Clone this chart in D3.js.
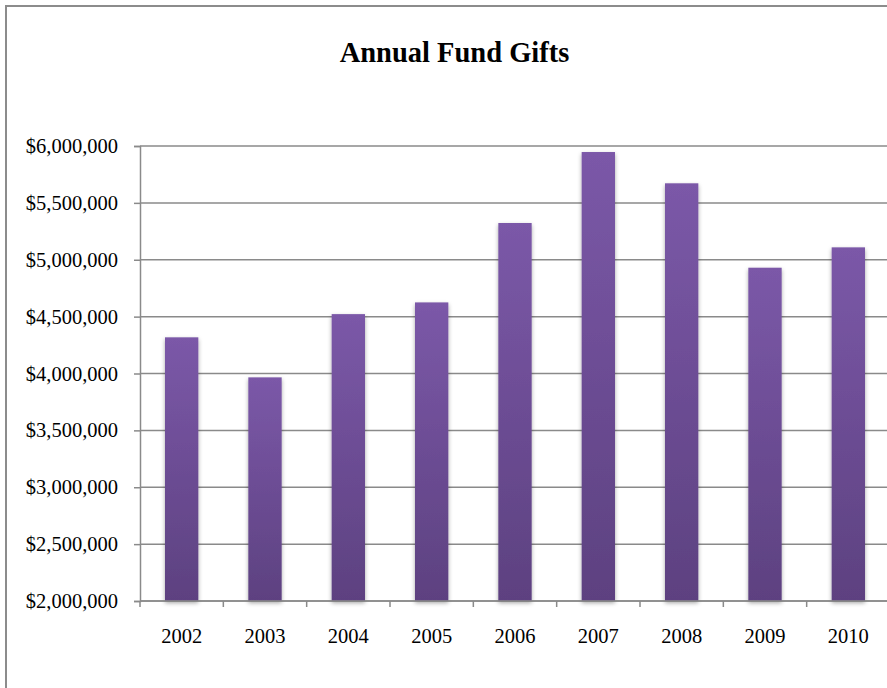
<!DOCTYPE html>
<html>
<head>
<meta charset="utf-8">
<script src="https://cdn.jsdelivr.net/npm/d3@7"></script>
<style>
  html, body { margin: 0; padding: 0; background: #fff; }
  svg { display: block; }
  text { font-family: "Liberation Serif", "Times New Roman", serif; fill: #000; }
</style>
</head>
<body>
<svg id="chart" width="887" height="688"></svg>
<script>
// Annual fund gift totals by fiscal year
const years = ["2002", "2003", "2004", "2005", "2006", "2007", "2008", "2009", "2010"];
const gifts = [4318000, 3966000, 4522000, 4625000, 5323000, 5947000, 5672000, 4930000, 5109000];
const yTicks = [2000000, 2500000, 3000000, 3500000, 4000000, 4500000, 5000000, 5500000, 6000000];
const title = "Annual Fund Gifts";

const svg = d3.select("#chart");
const W = 887, H = 688;
const plot = { left: 140, right: 890, top: 146, bottom: 601 };
const axisColor = "#8a8a8a";

// outer frame
svg.append("rect")
  .attr("x", 6).attr("y", 6)
  .attr("width", 1000).attr("height", 1000)
  .attr("fill", "none").attr("stroke", "#8c8c8c").attr("stroke-width", 2);

const defs = svg.append("defs");
const grad = defs.append("linearGradient")
  .attr("id", "barFill").attr("x1", 0).attr("y1", 0).attr("x2", 0).attr("y2", 1);
grad.append("stop").attr("offset", "0%").attr("stop-color", "#7b58a8");
grad.append("stop").attr("offset", "100%").attr("stop-color", "#5d4180");

const shadow = defs.append("filter").attr("id", "barShadow")
  .attr("x", "-30%").attr("y", "-10%").attr("width", "160%").attr("height", "120%");
shadow.append("feDropShadow")
  .attr("dx", 0).attr("dy", 2).attr("stdDeviation", 2.2)
  .attr("flood-color", "#000").attr("flood-opacity", 0.35);

const x = d3.scaleBand()
  .domain(years)
  .range([plot.left, plot.right])
  .paddingInner(0.6).paddingOuter(0.3);

const xTick = d3.scaleBand().domain(years).range([plot.left, plot.right]);

const y = d3.scaleLinear()
  .domain([2000000, 6000000])
  .range([plot.bottom, plot.top]);

// horizontal gridlines
svg.append("g")
  .selectAll("line")
  .data(yTicks)
  .join("line")
  .attr("x1", plot.left).attr("x2", plot.right)
  .attr("y1", d => y(d)).attr("y2", d => y(d))
  .attr("stroke", axisColor).attr("stroke-width", 1.5);

// value axis
const fmt = d3.format("$,");
const yAxis = svg.append("g")
  .attr("transform", `translate(${plot.left},0)`)
  .call(d3.axisLeft(y).tickValues(yTicks).tickFormat(d => fmt(d)).tickSize(6).tickPadding(16));
yAxis.select(".domain").attr("stroke", axisColor).attr("stroke-width", 1.5);
yAxis.selectAll(".tick line").attr("stroke", axisColor).attr("stroke-width", 1.5);
yAxis.selectAll(".tick text")
  .style("font-family", "'Liberation Serif', 'Times New Roman', serif")
  .style("font-size", "20.5px").attr("fill", "#000");

// bars
svg.append("g")
  .selectAll("rect")
  .data(years.map((yr, i) => ({ yr, v: gifts[i] })))
  .join("rect")
  .attr("x", d => x(d.yr))
  .attr("width", x.bandwidth())
  .attr("y", d => y(d.v))
  .attr("height", d => y(2000000) - y(d.v))
  .attr("fill", "url(#barFill)")
  .attr("filter", "url(#barShadow)");

// category axis
const xAxisG = svg.append("g").attr("transform", `translate(0,${plot.bottom})`);
xAxisG.append("line")
  .attr("x1", plot.left).attr("x2", plot.right)
  .attr("y1", 0).attr("y2", 0)
  .attr("stroke", axisColor).attr("stroke-width", 1.5);
xAxisG.selectAll("line.tk")
  .data(years)
  .join("line")
  .attr("class", "tk")
  .attr("x1", d => xTick(d)).attr("x2", d => xTick(d))
  .attr("y1", 0).attr("y2", 6)
  .attr("stroke", axisColor).attr("stroke-width", 1.5);
xAxisG.selectAll("text")
  .data(years)
  .join("text")
  .attr("x", d => xTick(d) + xTick.bandwidth() / 2)
  .attr("y", 42)
  .attr("text-anchor", "middle")
  .style("font-size", "20.5px")
  .text(d => d);

// title
svg.append("text")
  .attr("x", 454.5).attr("y", 62)
  .attr("text-anchor", "middle")
  .style("font-size", "28.5px").style("font-weight", "bold")
  .text(title);
</script>
</body>
</html>
